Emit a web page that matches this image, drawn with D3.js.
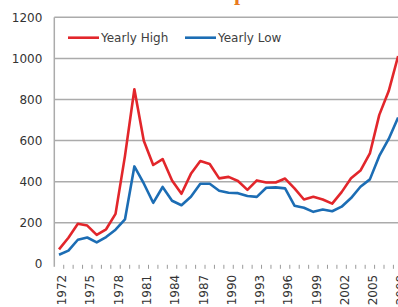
<!DOCTYPE html>
<html>
<head>
<meta charset="utf-8">
<script src="https://cdn.jsdelivr.net/npm/d3@7"></script>
<style>
  html, body { margin: 0; padding: 0; background: #fff; }
  svg { display: block; }
  text { font-family: "DejaVu Sans", sans-serif; }
</style>
</head>
<body>
<div id="chart"></div>
<script>
const YEARS = d3.range(1972, 2009)
const YEARLY_HIGH = [70,127,195,186,141,168,243,524,850,599,481,510,406,341,438,500,486,416,423,403,360,406,396,396,415,367,313,326,313,293,349,416,454,537,725,841,1011]
const YEARLY_LOW  = [44,64,117,128,104,130,166,216,474,391,297,374,307,285,326,390,390,356,346,344,330,326,370,372,367,283,273,253,264,256,278,320,375,411,525,608,712]
const Y_TICKS = [0,200,400,600,800,1000,1200]
const SERIES = [
    {name: "Yearly High", values: YEARLY_HIGH, color: "#e2262b"},
    {name: "Yearly Low", values: YEARLY_LOW, color: "#1c6db4"}
]

const W = 398, H = 307
const plotLeft = 54.3, plotTop = 17.3, plotBottom = 263.8

let svg = d3.select("#chart").append("svg")
    .attr("width", W)
    .attr("height", H)

// title, mostly cut off at top edge
let title = svg.append("text")
    .text("Gold price")
    .attr("y", 0)
    .attr("fill", "#e87a1e")
    .style("font-family", "'Liberation Serif', serif")
    .style("font-weight", "bold")
    .style("font-size", "22px")
let pStart = title.node().getStartPositionOfChar(5).x
title.attr("x", 234 - pStart)

let x = d3.scaleBand()
    .domain(YEARS)
    .range([plotLeft, plotLeft + YEARS.length * 9.42])

let y = d3.scaleLinear()
    .domain([0, 1200])
    .range([plotBottom, plotTop])

// gridlines
svg.append("g")
    .selectAll("line")
    .data(Y_TICKS.filter(d => d > 0))
    .enter()
    .append("line")
    .attr("x1", plotLeft)
    .attr("x2", W)
    .attr("y1", d => y(d))
    .attr("y2", d => y(d))
    .attr("stroke", "#ababab")
    .attr("stroke-width", 1.5)

// y axis
let yAxis = svg.append("g")
    .attr("transform", "translate(" + plotLeft + ",0)")
    .call(d3.axisLeft(y).tickValues(Y_TICKS).tickFormat(d3.format("d")).tickSize(0).tickPadding(12))
yAxis.select(".domain")
    .attr("stroke", "#ababab")
    .attr("stroke-width", 1.5)
    .attr("d", "M0," + plotTop + "V" + (plotBottom + 3))
yAxis.selectAll("text")
    .style("font-family", "'DejaVu Sans', sans-serif")
    .style("font-size", "12px")
    .attr("fill", "#333")

// x axis tick marks (category boundaries) and labels
svg.append("g")
    .selectAll("line")
    .data(YEARS.slice(1))
    .enter()
    .append("line")
    .attr("x1", d => x(d))
    .attr("x2", d => x(d))
    .attr("y1", plotBottom + 1)
    .attr("y2", plotBottom + 5)
    .attr("stroke", "#9a9a9a")
    .attr("stroke-width", 1)

svg.append("g")
    .selectAll("text")
    .data(YEARS.filter(d => (d - 1972) % 3 === 0))
    .enter()
    .append("text")
    .text(d => d)
    .attr("transform", d => "translate(" + (x(d) + x.bandwidth() / 2 + 3) + "," + (plotBottom + 11) + ") rotate(-90)")
    .attr("text-anchor", "end")
    .attr("dy", "0.35em")
    .attr("fill", "#333")
    .style("font-size", "12px")

// lines
let line = d3.line()
    .x((d, i) => x(YEARS[i]) + x.bandwidth() / 2)
    .y(d => y(d))

svg.append("g")
    .selectAll("path")
    .data(SERIES)
    .enter()
    .append("path")
    .attr("d", d => line(d.values))
    .attr("fill", "none")
    .attr("stroke", d => d.color)
    .attr("stroke-width", 2.6)
    .attr("stroke-linejoin", "round")

// legend
let legend = svg.append("g")
    .selectAll("g")
    .data(SERIES)
    .enter()
    .append("g")
    .attr("transform", (d, i) => "translate(" + [68, 185][i] + ",37.7)")
legend.append("line")
    .attr("x1", 0)
    .attr("x2", 31)
    .attr("stroke", d => d.color)
    .attr("stroke-width", 2.6)
legend.append("text")
    .text(d => d.name)
    .attr("x", 33)
    .attr("dy", "0.35em")
    .attr("fill", "#404040")
    .style("font-size", "12px")
</script>
</body>
</html>
